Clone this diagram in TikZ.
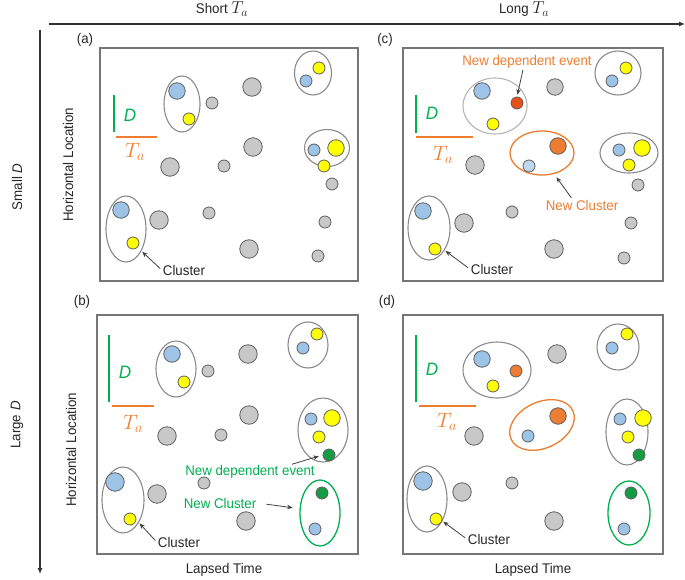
\documentclass[tikz,border=0pt]{standalone}
\usepackage{fontspec}
\setmainfont{Liberation Sans}[FakeStretch=0.95]
\usetikzlibrary{shapes.geometric,arrows.meta}
\definecolor{boxc}{HTML}{767676}
\definecolor{clc}{HTML}{8A8A8A}
\definecolor{clclight}{HTML}{B4B4B4}
\definecolor{dotline}{HTML}{5E5E5E}
\definecolor{grayf}{HTML}{C8C8C8}
\definecolor{bluef}{HTML}{9DC3E6}
\definecolor{lbluef}{HTML}{BDD7EE}
\definecolor{yellowf}{HTML}{FFFF00}
\definecolor{orangef}{HTML}{ED7D31}
\definecolor{redorf}{HTML}{E8501A}
\definecolor{dgreenf}{HTML}{169B45}
\definecolor{greenc}{HTML}{00B050}
\definecolor{orangec}{HTML}{ED7D31}
\definecolor{arrc}{HTML}{404040}
\newcommand{\tasym}{{\fontsize{17}{19}\selectfont$T_a$}}
\begin{document}
\begin{tikzpicture}[x=1pt,y=-1pt,
  panel/.style={draw=boxc, line width=1.4pt},
  dot/.style={circle, inner sep=0pt, draw=dotline, line width=0.8pt},
  gd/.style={dot, fill=grayf},
  bd/.style={dot, fill=bluef},
  lbd/.style={dot, fill=lbluef},
  yd/.style={dot, fill=yellowf},
  od/.style={dot, fill=orangef},
  rod/.style={dot, fill=redorf},
  gnd/.style={dot, fill=dgreenf},
  sm/.style={minimum size=12pt},
  md/.style={minimum size=16.5pt},
  lg/.style={minimum size=18.5pt},
  cl/.style={ellipse, draw=clc, line width=1.1pt, inner sep=0pt},
  clw/.style={ellipse, draw=clclight, line width=1.1pt, inner sep=0pt},
  ocl/.style={ellipse, draw=orangec, line width=1.3pt, inner sep=0pt},
  gcl/.style={ellipse, draw=greenc, line width=1.3pt, inner sep=0pt},
  txt/.style={font=\fontsize{14}{16}\selectfont, inner sep=1pt, text=black!85},
  otxt/.style={txt, text=orangec},
  gtxt/.style={txt, text=greenc},
  dlab/.style={font=\fontsize{18}{20}\selectfont\itshape, text=greenc, inner sep=0pt},
  tlab/.style={font=\fontsize{20}{22}\selectfont, text=orangec, inner sep=0pt},
  dline/.style={draw=greenc, line width=2.6pt},
  tline/.style={draw=orangec, line width=2.6pt},
  arr/.style={draw=arrc, line width=0.8pt, -{Stealth[length=5.5pt,width=4.5pt]}},
  axis/.style={draw=black!80, line width=1.1pt, -{Latex[length=6pt,width=5pt]}}
]
\useasboundingbox (0,0) rectangle (685,580);

% ---------- axes ----------
\coordinate (hs) at (49,24);
\coordinate (he) at (685,24);
\draw[axis] (hs) -- (he);
\coordinate (vs) at (40,30);
\coordinate (ve) at (40,574);
\draw[axis] (vs) -- (ve);
\node[txt] (short) at (222,9) {Short \tasym};
\node[txt] (long) at (524,9) {Long \tasym};
\node[txt, rotate=90] (smallD) at (17,187) {Small \textit{D}};
\node[txt, rotate=90] (largeD) at (17,425) {Large \textit{D}};
\node[txt, rotate=90] (hl1) at (68,165) {Horizontal Location};
\node[txt, rotate=90] (hl2) at (71,450) {Horizontal Location};
\node[txt] (lt1) at (224,570) {Lapsed Time};
\node[txt] (lt2) at (533,570) {Lapsed Time};

% ---------- panel (a) ----------
\node[txt] (la) at (85,40) {(a)};
\draw[panel] (100,48) rectangle (358,281);
\coordinate (aD1) at (114,95); \coordinate (aD2) at (114,132);
\draw[dline] (aD1) -- (aD2);
\coordinate (aT1) at (116,137); \coordinate (aT2) at (157,137);
\draw[tline] (aT1) -- (aT2);
\node[dlab] (aD) at (130,115) {D};
\node[tlab] (aT) at (135,152) {$T_a$};
\node[cl, minimum width=36pt, minimum height=56pt] (acl1) at (182,104) {};
\node[bd, md] (ab1) at (177,91) {};
\node[yd, sm] (ay1) at (189,119) {};
\node[gd, sm] (ag1) at (212,103) {};
\node[gd, lg] (ag2) at (252,87) {};
\node[cl, minimum width=37pt, minimum height=44pt] (acl2) at (313,73) {};
\node[bd, sm] (ab2) at (306,81) {};
\node[yd, sm] (ay2) at (319,68) {};
\node[gd, lg] (ag3) at (253,147) {};
\node[gd, lg] (ag4) at (170,167) {};
\node[gd, sm] (ag5) at (224,166) {};
\node[cl, minimum width=45pt, minimum height=37pt] (acl3) at (327,148) {};
\node[bd, sm] (ab3) at (314,150) {};
\node[yd, md] (ay3) at (336,148) {};
\node[yd, sm] (ay4) at (324,166) {};
\node[gd, sm] (ag6) at (332,184) {};
\node[cl, minimum width=40pt, minimum height=66pt] (acl4) at (126,229) {};
\node[bd, md] (ab4) at (121,210) {};
\node[yd, sm] (ay5) at (133,243) {};
\node[gd, lg] (ag7) at (159,220) {};
\node[gd, sm] (ag8) at (209,213) {};
\node[gd, lg] (ag9) at (249,249) {};
\node[gd, sm] (ag10) at (325,222) {};
\node[gd, sm] (ag11) at (318,256) {};
\node[txt] (acltxt) at (184,270) {Cluster};
\draw[arr, shorten <=2pt, shorten >=1pt] (acltxt.west) -- (acl4.-55);

% ---------- panel (c) ----------
\node[txt] (lc) at (385,40) {(c)};
\draw[panel] (403,48) rectangle (663,281);
\coordinate (cD1) at (416,95); \coordinate (cD2) at (416,133);
\draw[dline] (cD1) -- (cD2);
\coordinate (cT1) at (416,137); \coordinate (cT2) at (473,137);
\draw[tline] (cT1) -- (cT2);
\node[dlab] (cD) at (432,113) {D};
\node[tlab] (cT) at (443,155) {$T_a$};
\node[otxt] (cnd) at (527,62) {New dependent event};
\node[clw, minimum width=64pt, minimum height=56pt] (ccl1) at (495,106) {};
\node[bd, md] (cb1) at (482,91) {};
\node[rod, sm] (co1) at (517,103) {};
\node[yd, sm] (cy1) at (493,124) {};
\draw[arr, shorten >=2pt] ([xshift=-4pt]cnd.south) -- (co1.north);
\node[gd, md] (cg1) at (555,87) {};
\node[cl, minimum width=46pt, minimum height=44pt] (ccl2) at (618,73) {};
\node[bd, sm] (cb2) at (612,81) {};
\node[yd, sm] (cy2) at (626,68) {};
\node[ocl, minimum width=64pt, minimum height=44pt] (cocl) at (542,153) {};
\node[od, md] (co2) at (558,146) {};
\node[lbd, sm] (cb3) at (529,166) {};
\node[otxt] (cnc) at (582,205) {New Cluster};
\draw[arr, shorten <=1pt, shorten >=4pt] ([xshift=-10pt]cnc.north) -- (cocl.-60);
\node[cl, minimum width=58pt, minimum height=40pt] (ccl3) at (629,153) {};
\node[bd, sm] (cb4) at (619,150) {};
\node[yd, md] (cy3) at (642,148) {};
\node[yd, sm] (cy4) at (629,165) {};
\node[gd, sm] (cg2) at (638,185) {};
\node[gd, lg] (cg3) at (475,165) {};
\node[cl, minimum width=42pt, minimum height=64pt] (ccl4) at (429,228) {};
\node[bd, md] (cb5) at (423,211) {};
\node[yd, sm] (cy5) at (435,249) {};
\node[gd, lg] (cg4) at (464,223) {};
\node[gd, sm] (cg5) at (512,212) {};
\node[gd, lg] (cg6) at (554,249) {};
\node[gd, sm] (cg7) at (631,223) {};
\node[gd, sm] (cg8) at (624,258) {};
\node[txt] (ccltxt) at (492,269) {Cluster};
\draw[arr, shorten <=2pt, shorten >=1pt] (ccltxt.west) -- (ccl4.-55);

% ---------- panel (b) ----------
\node[txt] (lb) at (82,302) {(b)};
\draw[panel] (97,315) rectangle (358,554);
\coordinate (bD1) at (109,335); \coordinate (bD2) at (109,402);
\draw[dline] (bD1) -- (bD2);
\coordinate (bT1) at (112,406); \coordinate (bT2) at (154,406);
\draw[tline] (bT1) -- (bT2);
\node[dlab] (bD) at (125,372) {D};
\node[tlab] (bT) at (133,424) {$T_a$};
\node[cl, minimum width=40pt, minimum height=56pt] (bcl1) at (176,369) {};
\node[bd, md] (bb1) at (172,354) {};
\node[yd, sm] (by1) at (184,382) {};
\node[gd, sm] (bg1) at (208,371) {};
\node[gd, lg] (bg2) at (248,354) {};
\node[cl, minimum width=40pt, minimum height=46pt] (bcl2) at (308,345) {};
\node[bd, sm] (bb2) at (303,348) {};
\node[yd, sm] (by2) at (317,334) {};
\node[gd, lg] (bg3) at (249,415) {};
\node[gd, lg] (bg4) at (167,436) {};
\node[gd, sm] (bg5) at (221,435) {};
\node[cl, minimum width=50pt, minimum height=64pt] (bcl3) at (323,430) {};
\node[bd, sm] (bb3) at (311,419) {};
\node[yd, md] (by3) at (332,418) {};
\node[yd, sm] (by4) at (319,437) {};
\node[gnd, sm] (bn1) at (329,455) {};
\node[gtxt] (bnd) at (250,472) {New dependent event};
\draw[arr, shorten >=4pt] ([xshift=-24pt]bnd.north east) -- (bn1.west);
\node[gcl, minimum width=40pt, minimum height=66pt] (bgcl) at (320,513) {};
\node[gnd, sm] (bn2) at (322,493) {};
\node[bd, sm] (bb4) at (315,529) {};
\node[gtxt] (bnc) at (220,503) {New Cluster};
\draw[arr, shorten <=9pt, shorten >=7pt] (bnc.east) -- (bgcl.168);
\node[cl, minimum width=42pt, minimum height=66pt] (bcl4) at (123,500) {};
\node[bd, lg] (bb5) at (115,482) {};
\node[yd, sm] (by5) at (130,519) {};
\node[gd, lg] (bg6) at (157,494) {};
\node[gd, sm] (bg7) at (204,483) {};
\node[gd, lg] (bg8) at (246,521) {};
\node[txt] (bcltxt) at (179,542) {Cluster};
\draw[arr, shorten <=2pt, shorten >=1pt] (bcltxt.west) -- (bcl4.-55);

% ---------- panel (d) ----------
\node[txt] (ld) at (387,302) {(d)};
\draw[panel] (403,315) rectangle (663,554);
\coordinate (dD1) at (416,335); \coordinate (dD2) at (416,402);
\draw[dline] (dD1) -- (dD2);
\coordinate (dT1) at (419,406); \coordinate (dT2) at (476,406);
\draw[tline] (dT1) -- (dT2);
\node[dlab] (dD) at (432,369) {D};
\node[tlab] (dT) at (447,422) {$T_a$};
\node[cl, minimum width=68pt, minimum height=56pt] (dcl1) at (497,370) {};
\node[bd, md] (db1) at (482,359) {};
\node[od, sm] (do1) at (516,371) {};
\node[yd, sm] (dy1) at (493,386) {};
\node[gd, lg] (dg1) at (557,354) {};
\node[cl, minimum width=42pt, minimum height=46pt] (dcl2) at (618,347) {};
\node[bd, sm] (db2) at (612,348) {};
\node[yd, sm] (dy2) at (627,334) {};
\node[ocl, rotate=25, minimum width=68pt, minimum height=46pt] (docl) at (542,425) {};
\node[od, md] (do2) at (558,416) {};
\node[bd, sm] (db3) at (528,436) {};
\node[gd, lg] (dg2) at (474,436) {};
\node[cl, minimum width=42pt, minimum height=66pt] (dcl3) at (627,432) {};
\node[bd, sm] (db4) at (620,419) {};
\node[yd, md] (dy3) at (643,418) {};
\node[yd, sm] (dy4) at (628,437) {};
\node[gnd, sm] (dn1) at (639,455) {};
\node[gcl, minimum width=42pt, minimum height=64pt] (dgcl) at (629,513) {};
\node[gnd, sm] (dn2) at (631,493) {};
\node[bd, sm] (db5) at (624,529) {};
\node[cl, minimum width=40pt, minimum height=66pt] (dcl4) at (427,499) {};
\node[bd, lg] (db6) at (423,481) {};
\node[yd, sm] (dy5) at (436,519) {};
\node[gd, lg] (dg3) at (462,492) {};
\node[gd, sm] (dg4) at (512,483) {};
\node[gd, lg] (dg5) at (554,521) {};
\node[txt] (dcltxt) at (489,539) {Cluster};
\draw[arr, shorten <=2pt, shorten >=1pt] (dcltxt.west) -- (dcl4.-55);
\end{tikzpicture}
\end{document}
